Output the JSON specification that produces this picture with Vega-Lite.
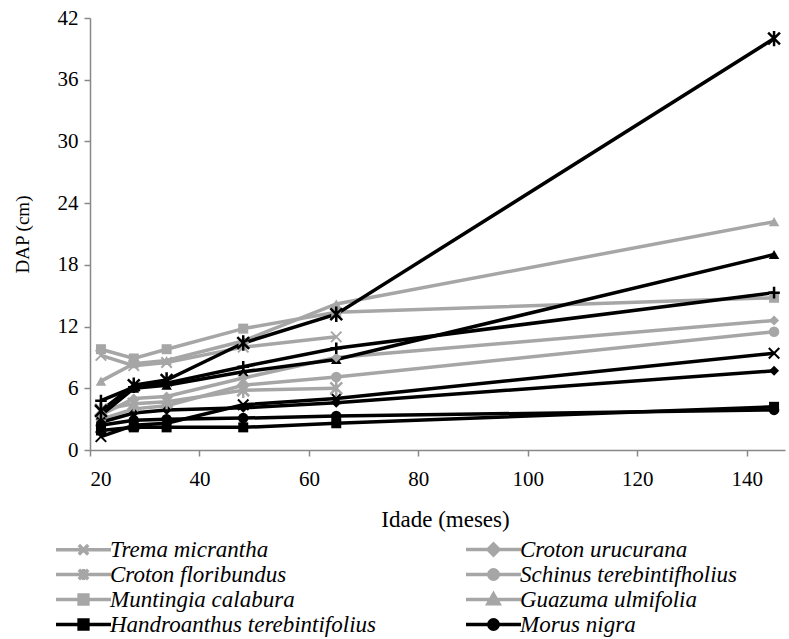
{
  "$schema": "https://vega.github.io/schema/vega-lite/v6.json",
  "width": 695,
  "height": 432,
  "autosize": "none",
  "padding": {"left": 90, "top": 18, "right": 4, "bottom": 189},
  "background": "white",
  "config": {
    "view": {"stroke": null},
    "font": "Times New Roman, Liberation Serif, serif",
    "axis": {
      "grid": false,
      "domainColor": "#888888",
      "tickColor": "#888888",
      "domainWidth": 1.5,
      "tickWidth": 1.5,
      "tickSize": 6,
      "labelFont": "Times New Roman, Liberation Serif, serif",
      "labelFontSize": 21,
      "labelColor": "#000000",
      "titleFont": "Times New Roman, Liberation Serif, serif",
      "titleFontSize": 23,
      "titleFontWeight": "normal",
      "titleColor": "#000000"
    }
  },
  "data": {
    "values": [
      {"serie": "Trema micrantha", "idade": 22, "dap": 9.2},
      {"serie": "Trema micrantha", "idade": 28, "dap": 8.2},
      {"serie": "Trema micrantha", "idade": 34, "dap": 8.5},
      {"serie": "Trema micrantha", "idade": 48, "dap": 10.0},
      {"serie": "Trema micrantha", "idade": 65, "dap": 11.0},
      {"serie": "Croton urucurana", "idade": 22, "dap": 3.4},
      {"serie": "Croton urucurana", "idade": 28, "dap": 5.0},
      {"serie": "Croton urucurana", "idade": 34, "dap": 5.2},
      {"serie": "Croton urucurana", "idade": 48, "dap": 7.0},
      {"serie": "Croton urucurana", "idade": 65, "dap": 9.0},
      {"serie": "Croton urucurana", "idade": 145, "dap": 12.6},
      {"serie": "Croton floribundus", "idade": 22, "dap": 3.9},
      {"serie": "Croton floribundus", "idade": 28, "dap": 4.5},
      {"serie": "Croton floribundus", "idade": 34, "dap": 4.7},
      {"serie": "Croton floribundus", "idade": 48, "dap": 5.8},
      {"serie": "Croton floribundus", "idade": 65, "dap": 6.0},
      {"serie": "Schinus terebintifholius", "idade": 22, "dap": 3.0},
      {"serie": "Schinus terebintifholius", "idade": 28, "dap": 4.0},
      {"serie": "Schinus terebintifholius", "idade": 34, "dap": 4.3},
      {"serie": "Schinus terebintifholius", "idade": 48, "dap": 6.3},
      {"serie": "Schinus terebintifholius", "idade": 65, "dap": 7.1},
      {"serie": "Schinus terebintifholius", "idade": 145, "dap": 11.5},
      {"serie": "Muntingia calabura", "idade": 22, "dap": 9.8},
      {"serie": "Muntingia calabura", "idade": 28, "dap": 8.9},
      {"serie": "Muntingia calabura", "idade": 34, "dap": 9.8},
      {"serie": "Muntingia calabura", "idade": 48, "dap": 11.8},
      {"serie": "Muntingia calabura", "idade": 65, "dap": 13.4},
      {"serie": "Muntingia calabura", "idade": 145, "dap": 14.8},
      {"serie": "Guazuma ulmifolia", "idade": 22, "dap": 6.7},
      {"serie": "Guazuma ulmifolia", "idade": 28, "dap": 8.4},
      {"serie": "Guazuma ulmifolia", "idade": 34, "dap": 8.7},
      {"serie": "Guazuma ulmifolia", "idade": 48, "dap": 10.6},
      {"serie": "Guazuma ulmifolia", "idade": 65, "dap": 14.2},
      {"serie": "Guazuma ulmifolia", "idade": 145, "dap": 22.2},
      {"serie": "Handroanthus terebintifolius", "idade": 22, "dap": 1.9},
      {"serie": "Handroanthus terebintifolius", "idade": 28, "dap": 2.2},
      {"serie": "Handroanthus terebintifolius", "idade": 34, "dap": 2.2},
      {"serie": "Handroanthus terebintifolius", "idade": 48, "dap": 2.2},
      {"serie": "Handroanthus terebintifolius", "idade": 65, "dap": 2.6},
      {"serie": "Handroanthus terebintifolius", "idade": 145, "dap": 4.2},
      {"serie": "Morus nigra", "idade": 22, "dap": 2.4},
      {"serie": "Morus nigra", "idade": 28, "dap": 2.9},
      {"serie": "Morus nigra", "idade": 34, "dap": 3.0},
      {"serie": "Morus nigra", "idade": 48, "dap": 3.1},
      {"serie": "Morus nigra", "idade": 65, "dap": 3.3},
      {"serie": "Morus nigra", "idade": 145, "dap": 3.9},
      {"serie": "Espécie A", "idade": 22, "dap": 1.3},
      {"serie": "Espécie A", "idade": 28, "dap": 2.4},
      {"serie": "Espécie A", "idade": 34, "dap": 2.6},
      {"serie": "Espécie A", "idade": 48, "dap": 4.4},
      {"serie": "Espécie A", "idade": 65, "dap": 5.0},
      {"serie": "Espécie A", "idade": 145, "dap": 9.4},
      {"serie": "Espécie B", "idade": 22, "dap": 3.8},
      {"serie": "Espécie B", "idade": 28, "dap": 6.3},
      {"serie": "Espécie B", "idade": 34, "dap": 6.8},
      {"serie": "Espécie B", "idade": 48, "dap": 10.4},
      {"serie": "Espécie B", "idade": 65, "dap": 13.2},
      {"serie": "Espécie B", "idade": 145, "dap": 40.0},
      {"serie": "Espécie C", "idade": 22, "dap": 4.8},
      {"serie": "Espécie C", "idade": 28, "dap": 6.1},
      {"serie": "Espécie C", "idade": 34, "dap": 6.5},
      {"serie": "Espécie C", "idade": 48, "dap": 8.1},
      {"serie": "Espécie C", "idade": 65, "dap": 9.9},
      {"serie": "Espécie C", "idade": 145, "dap": 15.3},
      {"serie": "Espécie D", "idade": 22, "dap": 3.4},
      {"serie": "Espécie D", "idade": 28, "dap": 6.0},
      {"serie": "Espécie D", "idade": 34, "dap": 6.3},
      {"serie": "Espécie D", "idade": 48, "dap": 7.6},
      {"serie": "Espécie D", "idade": 65, "dap": 8.8},
      {"serie": "Espécie D", "idade": 145, "dap": 19.0},
      {"serie": "Espécie E", "idade": 22, "dap": 2.7},
      {"serie": "Espécie E", "idade": 28, "dap": 3.6},
      {"serie": "Espécie E", "idade": 34, "dap": 3.9},
      {"serie": "Espécie E", "idade": 48, "dap": 4.1},
      {"serie": "Espécie E", "idade": 65, "dap": 4.6},
      {"serie": "Espécie E", "idade": 145, "dap": 7.7}
    ]
  },
  "encoding": {
    "x": {
      "field": "idade", "type": "quantitative",
      "scale": {"domain": [20, 147], "nice": false, "zero": false},
      "axis": {"values": [20, 40, 60, 80, 100, 120, 140], "title": "Idade (meses)", "labelPadding": 12, "titleX": 355, "titleY": 69, "titleBaseline": "middle"}
    },
    "y": {
      "field": "dap", "type": "quantitative",
      "scale": {"domain": [0, 42], "nice": false},
      "axis": {"values": [0, 6, 12, 18, 24, 30, 36, 42], "title": "DAP (cm)", "labelPadding": 6, "titleX": -68, "titleY": 216, "titleBaseline": "middle", "titleFontSize": 19}
    },
    "color": {
      "field": "serie", "type": "nominal",
      "scale": {
        "domain": ["Trema micrantha", "Croton urucurana", "Croton floribundus", "Schinus terebintifholius", "Muntingia calabura", "Guazuma ulmifolia", "Handroanthus terebintifolius", "Morus nigra", "Espécie A", "Espécie B", "Espécie C", "Espécie D", "Espécie E"],
        "range": ["#a6a6a6", "#a6a6a6", "#a6a6a6", "#a6a6a6", "#a6a6a6", "#a6a6a6", "#000000", "#000000", "#000000", "#000000", "#000000", "#000000", "#000000"]
      },
      "legend": {
        "values": ["Trema micrantha", "Croton floribundus", "Muntingia calabura", "Handroanthus terebintifolius", "Croton urucurana", "Schinus terebintifholius", "Guazuma ulmifolia", "Morus nigra"],
        "title": null,
        "orient": "none",
        "legendX": -35,
        "legendY": 520,
        "columns": 2,
        "columnPadding": 83,
        "rowPadding": 0,
        "symbolSize": 121,
        "symbolStrokeWidth": 3.5,
        "symbolOffset": 17,
        "labelOffset": 15,
        "symbolOpacity": 1,
        "symbolType": {"expr": "['M-5,0L5,0M-0.85,-0.85L0.85,0.85M-0.85,0.85L0.85,-0.85','M-5,0L5,0M0,-1L1,0L0,1L-1,0Z','M-5,0L5,0M-0.85,-0.85L0.85,0.85M-0.85,0.85L0.85,-0.85M0,-1L0,1','M-5,0L5,0M-0.85,0A0.85,0.85 0 1,0 0.85,0A0.85,0.85 0 1,0 -0.85,0Z','M-5,0L5,0M-0.8,-0.8L0.8,-0.8L0.8,0.8L-0.8,0.8Z','M-5,0L5,0M0,-1L1,0.75L-1,0.75Z','M-5,0L5,0M-0.8,-0.8L0.8,-0.8L0.8,0.8L-0.8,0.8Z','M-5,0L5,0M-0.85,0A0.85,0.85 0 1,0 0.85,0A0.85,0.85 0 1,0 -0.85,0Z'][indexof(['Trema micrantha','Croton urucurana','Croton floribundus','Schinus terebintifholius','Muntingia calabura','Guazuma ulmifolia','Handroanthus terebintifolius','Morus nigra'], datum.value)]"},
        "symbolFillColor": {"expr": "indexof(['Handroanthus terebintifolius','Morus nigra'], datum.value) >= 0 ? '#000000' : '#a6a6a6'"},
        "symbolStrokeColor": {"expr": "indexof(['Handroanthus terebintifolius','Morus nigra'], datum.value) >= 0 ? '#000000' : '#a6a6a6'"},
        "labelFont": "Times New Roman, Liberation Serif, serif",
        "labelFontStyle": "italic",
        "labelFontSize": 23,
        "labelColor": "#000000",
        "labelLimit": 0
      }
    }
  },
  "layer": [
    {
      "mark": {"type": "line"},
      "encoding": {
        "strokeWidth": {
          "field": "serie", "type": "nominal",
          "scale": {
            "domain": ["Trema micrantha", "Croton urucurana", "Croton floribundus", "Schinus terebintifholius", "Muntingia calabura", "Guazuma ulmifolia", "Handroanthus terebintifolius", "Morus nigra", "Espécie A", "Espécie B", "Espécie C", "Espécie D", "Espécie E"],
            "range": [3.5, 3.5, 3.5, 3.5, 3.5, 3.5, 2.5, 2.5, 2.5, 2.5, 2.5, 2.5, 2.5]
          },
          "legend": null
        }
      }
    },
    {
      "transform": [{"filter": {"field": "serie", "oneOf": ["Muntingia calabura", "Handroanthus terebintifolius"]}}],
      "mark": {"type": "point", "filled": true, "shape": "square", "size": 100, "opacity": 1}
    },
    {
      "transform": [{"filter": {"field": "serie", "oneOf": ["Schinus terebintifholius", "Morus nigra"]}}],
      "mark": {"type": "point", "filled": true, "shape": "circle", "size": 110, "opacity": 1}
    },
    {
      "transform": [{"filter": {"field": "serie", "oneOf": ["Guazuma ulmifolia", "Espécie D"]}}],
      "mark": {"type": "point", "filled": true, "shape": "triangle-up", "size": 110, "opacity": 1}
    },
    {
      "transform": [{"filter": {"field": "serie", "oneOf": ["Croton urucurana", "Espécie E"]}}],
      "mark": {"type": "point", "filled": true, "shape": "diamond", "size": 100, "opacity": 1}
    },
    {
      "transform": [{"filter": {"field": "serie", "oneOf": ["Trema micrantha", "Espécie A"]}}],
      "mark": {"type": "point", "filled": false, "shape": "M-1,-1L1,1M-1,1L1,-1", "size": 110, "strokeWidth": 2, "opacity": 1}
    },
    {
      "transform": [{"filter": {"field": "serie", "oneOf": ["Croton floribundus", "Espécie B"]}}],
      "mark": {"type": "point", "filled": false, "shape": "M-1,-1L1,1M-1,1L1,-1M0,-1.3L0,1.3", "size": 140, "strokeWidth": 2.5, "opacity": 1}
    },
    {
      "transform": [{"filter": {"field": "serie", "oneOf": ["Espécie C"]}}],
      "mark": {"type": "point", "filled": false, "shape": "M-1.1,0L1.1,0M0,-1.1L0,1.1", "size": 110, "strokeWidth": 2.5, "opacity": 1}
    }
  ]
}
